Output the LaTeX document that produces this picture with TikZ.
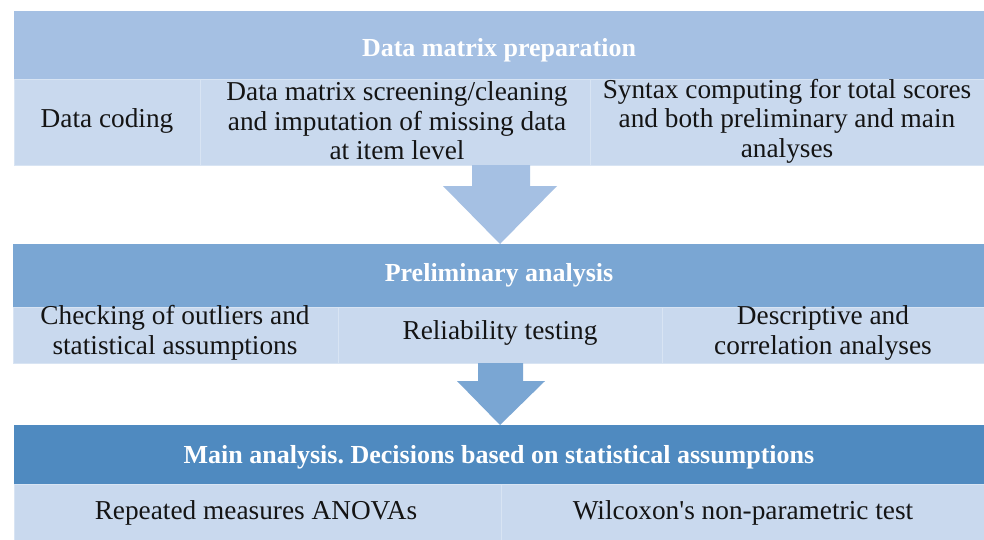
\documentclass[tikz,border=0pt]{standalone}
\usepackage{fontspec}
\setmainfont{Liberation Serif}
\frenchspacing
\definecolor{hdrA}{HTML}{A5C0E3}
\definecolor{hdrB}{HTML}{7AA6D3}
\definecolor{hdrC}{HTML}{4F8AC0}
\definecolor{cellbg}{HTML}{C9D9EE}
\definecolor{cellline}{HTML}{D8E4F3}
\tikzset{
  hdr/.style={font=\fontsize{26}{30}\selectfont\bfseries, text=white},
  cell/.style={font=\fontsize{27.3}{29.5}\selectfont, text=black!92, align=center},
  cellbox/.style={fill=cellbg, draw=cellline, line width=0.8pt},
}
\begin{document}
\begin{tikzpicture}[x=1pt,y=-1pt]
\useasboundingbox[fill=white] (0,0) rectangle (984,539);

% --- Data matrix preparation ---
\fill[hdrA] (14,11) rectangle (984,79);
\node[hdr] (h1) at (499,50) {Data matrix preparation};
\draw[cellbox] (14,79) rectangle (200,165);
\draw[cellbox] (200,79) rectangle (590,165);
\draw[cellbox] (590,79) rectangle (984,165);
\node[cell] (c11) at (107,121) {Data coding};
\node[cell] (c12) at (397,121) {Data matrix screening/cleaning\\and imputation of missing data\\at item level};
\node[cell] (c13) at (787,121) {Syntax computing for total scores\\and both preliminary and main\\analyses};

% arrow into the preliminary stage
\fill[hdrA] (472,165) -- (530,165) -- (530,186) -- (557,186) -- (500,244)
  -- (443,186) -- (472,186) -- cycle;

% --- Preliminary analysis ---
\fill[hdrB] (13,244) rectangle (984,307);
\node[hdr] (h2) at (499,275) {Preliminary analysis};
\draw[cellbox] (13,307) rectangle (338,363);
\draw[cellbox] (338,307) rectangle (662,363);
\draw[cellbox] (662,307) rectangle (984,363);
\node[cell] (c21) at (175,333) {Checking of outliers and\\statistical assumptions};
\node[cell] (c22) at (500,333) {Reliability testing};
\node[cell] (c23) at (823,333) {Descriptive and\\correlation analyses};

% arrow into the main stage
\fill[hdrB] (478,363) -- (523,363) -- (523,381) -- (545,381) -- (500,425)
  -- (457,381) -- (478,381) -- cycle;

% --- Main analysis ---
\fill[hdrC] (14,425) rectangle (984,484);
\node[hdr] (h3) at (499,457) {Main analysis. Decisions based on statistical assumptions};
\draw[cellbox] (14,484) rectangle (501,545);
\draw[cellbox] (501,484) rectangle (990,545);
\node[cell] (c31) at (256,513) {Repeated measures ANOVAs};
\node[cell] (c32) at (743,513) {Wilcoxon\textquotesingle s non-parametric test};
\end{tikzpicture}
\end{document}
